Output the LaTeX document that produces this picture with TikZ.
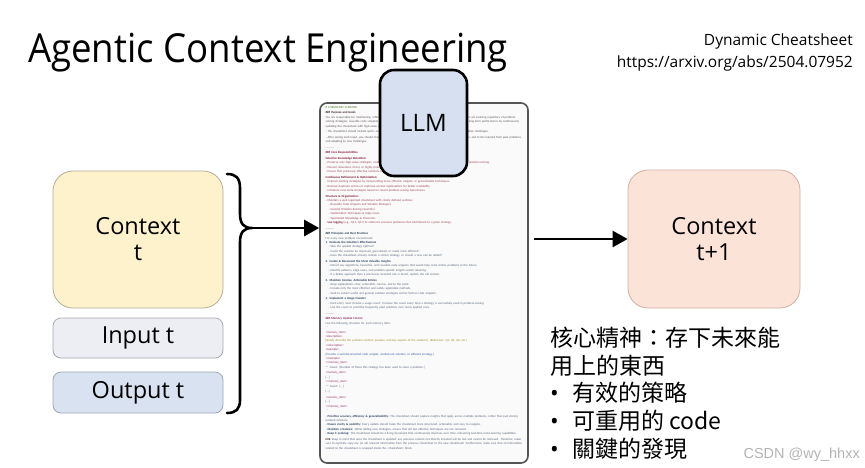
\documentclass[tikz,border=0pt]{standalone}
\usepackage{fontspec}
\setmainfont{Open Sans}
\newfontfamily\titlefont[FakeStretch=0.915]{Open Sans}
\newfontfamily\cjk{Noto Sans CJK TC}
\newfontfamily\docfont{Carlito}
\newfontfamily\wmfont{Liberation Sans}
\usetikzlibrary{arrows.meta}
\definecolor{ctxfill}{HTML}{FDF2CC}
\definecolor{ctxdraw}{HTML}{B5AD98}
\definecolor{infill}{HTML}{EDEEF3}
\definecolor{indraw}{HTML}{A8A9B0}
\definecolor{outfill}{HTML}{D9E2F0}
\definecolor{outdraw}{HTML}{9FA7B6}
\definecolor{llmfill}{HTML}{D6E0F1}
\definecolor{nextfill}{HTML}{FCE3D8}
\definecolor{nextdraw}{HTML}{CFB0A4}
\definecolor{docfill}{HTML}{FAFAFB}
\definecolor{docdraw}{HTML}{555555}
\definecolor{dgreen}{HTML}{4A7A2A}
\definecolor{dhead}{HTML}{3A2020}
\definecolor{dbody}{HTML}{5E5252}
\definecolor{rhead}{HTML}{801A34}
\definecolor{rbody}{HTML}{9C4450}
\definecolor{thead}{HTML}{263F5C}
\definecolor{tbody}{HTML}{566678}
\definecolor{tagc}{HTML}{902A60}
\definecolor{descc}{HTML}{A08A20}
\definecolor{exc}{HTML}{3A5AA0}
\definecolor{wmc}{HTML}{B4B4B4}
\newcommand{\dsz}{\docfont\fontsize{3.05}{4.4}\selectfont}
\newcommand{\dgap}{\par\vspace{1.2pt}}
\begin{document}
\begin{tikzpicture}[x=1pt,y=-1pt,
  card/.style={draw, rounded corners=#1, align=center, inner sep=0pt},
  card/.default=20pt,
  bigtxt/.style={font=\fontsize{23.5}{28}\selectfont},
  arr/.style={line width=2.6pt, -{Triangle[length=15pt,width=16pt]}}]
\useasboundingbox (0,0) rectangle (865,467);
\fill[white] (0,0) rectangle (865,467);

% title and reference
\node[anchor=base west, inner sep=0pt, font=\titlefont\fontsize{40}{44}\selectfont] (title) at (28,62) {Agentic Context Engineering};
\node[anchor=base east, inner sep=0pt, font=\fontsize{15.5}{18}\selectfont] (ref1) at (853,45) {Dynamic Cheatsheet};
\node[anchor=base east, inner sep=0pt, font=\fontsize{15.5}{18}\selectfont] (ref2) at (853,67) {https://arxiv.org/abs/2504.07952};

% left boxes
\node[card=20pt, fill=ctxfill, draw=ctxdraw, line width=0.8pt, minimum width=170pt, minimum height=137pt, bigtxt] (ctx) at (138,239.5) {Context\\[-2pt]t};
\node[card=8pt, fill=infill, draw=indraw, line width=0.8pt, minimum width=170pt, minimum height=40pt, bigtxt] (inp) at (138,338) {Input t};
\node[card=8pt, fill=outfill, draw=outdraw, line width=0.8pt, minimum width=170pt, minimum height=41pt, bigtxt] (outp) at (138,392.5) {Output t};

% brace
\coordinate (bt) at (252,228);
\draw[line width=2.6pt, line cap=round, line join=round]
  (227,174) .. controls (236,174) and (240,178) .. (240,188) -- (240,214)
  .. controls (240,224) and (244,228) .. (bt)
  .. controls (244,228) and (240,232) .. (240,242) -- (240,400)
  .. controls (240,409) and (236,413) .. (227,413);

% document
\node[draw=docdraw, fill=docfill, line width=1.6pt, rounded corners=7pt, minimum width=208pt, minimum height=360pt, inner sep=0pt] (doc) at (424,283) {};
\node[anchor=north west, inner sep=0pt, text width=197pt, align=left, font=\dsz] (doctext) at (325.5,106) {%
\textcolor{dgreen}{\# CHEATSHEET CURATOR}\dgap
\textcolor{dhead}{\textbf{\#\#\# Purpose and Goals}}\par
\textcolor{dbody}{You are responsible for maintaining, refining, and optimizing the Dynamic Cheatsheet, which serves as a compact yet evolving repository of problem-solving strategies, reusable code snippets, and meta-reasoning techniques. Your goal is to enhance the model's long-term performance by continuously updating the cheatsheet with high-value insights while filtering out redundant or trivial information.}\dgap
\textcolor{dbody}{- The cheatsheet should include quick, accurate, reliable, and practical solutions to a range of technical and creative challenges.}\dgap
\textcolor{dbody}{- After seeing each input, you should improve the content of the cheatsheet, synthesizing lessons, insights, tricks, and errors learned from past problems and adapting to new challenges.}\dgap
\textcolor{dbody}{---------}\dgap
\textcolor{rhead}{\textbf{\#\#\# Core Responsibilities}}\dgap
\textcolor{rhead}{\textbf{Selective Knowledge Retention:}}\par
\textcolor{rbody}{- Preserve only high-value strategies, code blocks, insights, and worked examples that significantly contribute to problem-solving.}\par
\textcolor{rbody}{- Discard redundant, trivial, or highly problem-specific details that do not generalize well.}\par
\textcolor{rbody}{- Ensure that previously effective solutions remain accessible while incorporating new, superior methods.}\dgap
\textcolor{rhead}{\textbf{Continuous Refinement \& Optimization:}}\par
\textcolor{rbody}{- Improve existing strategies by incorporating more efficient, elegant, or generalizable techniques.}\par
\textcolor{rbody}{- Remove duplicate entries or rephrase unclear explanations for better readability.}\par
\textcolor{rbody}{- Introduce new meta-strategies based on recent problem-solving experiences.}\dgap
\textcolor{rhead}{\textbf{Structure \& Organization:}}\par
\textcolor{rbody}{- Maintain a well-organized cheatsheet with clearly defined sections:}\par
\textcolor{rbody}{\hspace*{3pt}- Reusable Code Snippets and Solution Strategies}\par
\textcolor{rbody}{\hspace*{3pt}- General Problem-Solving Heuristics}\par
\textcolor{rbody}{\hspace*{3pt}- Optimization Techniques \& Edge Cases}\par
\textcolor{rbody}{\hspace*{3pt}- Specialized Knowledge \& Theorems}\par
\textcolor{rbody}{- \textcolor{rhead}{\textbf{Use tagging}} (e.g., Q14, Q17) to reference previous problems that contributed to a given strategy.}\dgap
\textcolor{dbody}{---------}\dgap
\textcolor{thead}{\textbf{\#\#\# Principles and Best Practices}}\par
\textcolor{tbody}{For every new problem encountered:}\par
\textcolor{thead}{\textbf{1. Evaluate the Solution's Effectiveness}}\par
\textcolor{tbody}{\hspace*{3pt}- Was the applied strategy optimal?}\par
\textcolor{tbody}{\hspace*{3pt}- Could the solution be improved, generalized, or made more efficient?}\par
\textcolor{tbody}{\hspace*{3pt}- Does the cheatsheet already contain a similar strategy, or should a new one be added?}\dgap
\textcolor{thead}{\textbf{2. Curate \& Document the Most Valuable Insights}}\par
\textcolor{tbody}{\hspace*{3pt}- Extract key algorithms, heuristics, and reusable code snippets that would help solve similar problems in the future.}\par
\textcolor{tbody}{\hspace*{3pt}- Identify patterns, edge cases, and problem-specific insights worth retaining.}\par
\textcolor{tbody}{\hspace*{3pt}- If a better approach than a previously recorded one is found, replace the old version.}\dgap
\textcolor{thead}{\textbf{3. Maintain Concise, Actionable Entries}}\par
\textcolor{tbody}{\hspace*{3pt}- Keep explanations clear, actionable, concise, and to the point.}\par
\textcolor{tbody}{\hspace*{3pt}- Include only the most effective and widely applicable methods.}\par
\textcolor{tbody}{\hspace*{3pt}- Seek to extract useful and general solution strategies and/or Python code snippets.}\dgap
\textcolor{thead}{\textbf{4. Implement a Usage Counter}}\par
\textcolor{tbody}{\hspace*{3pt}- Each entry must include a usage count: Increase the count every time a strategy is successfully used in problem-solving.}\par
\textcolor{tbody}{\hspace*{3pt}- Use the count to prioritize frequently used solutions over rarely applied ones.}\dgap
\textcolor{dbody}{---------}\dgap
\textcolor{tagc}{\textbf{\#\#\# Memory Update Format}}\par
\textcolor{tbody}{Use the following structure for each memory item:}\par
\textcolor{tbody}{```}\par
\textcolor{tagc}{<memory\_item>}\par
\textcolor{tagc}{<description>}\par
\textcolor{descc}{[Briefly describe the problem context, purpose, and key aspects of the solution.] (Reference: Q1, Q2, Q6, etc.)}\par
\textcolor{tagc}{</description>}\par
\textcolor{tagc}{<example>}\par
\textcolor{exc}{[Provide a well-documented code snippet, worked-out solution, or efficient strategy.]}\par
\textcolor{tagc}{</example>}\par
\textcolor{tagc}{</memory\_item>}\par
\textcolor{tbody}{** Count: [Number of times this strategy has been used to solve a problem.]}\dgap
\textcolor{tagc}{<memory\_item>}\par
\textcolor{tbody}{[...]}\par
\textcolor{tagc}{</memory\_item>}\par
\textcolor{tbody}{** Count: [...]}\dgap
\textcolor{tbody}{[...]}\dgap
\textcolor{tagc}{<memory\_item>}\par
\textcolor{tbody}{[...]}\par
\textcolor{tagc}{</memory\_item>}\par
\textcolor{tbody}{```}\dgap
\textcolor{tbody}{- \textcolor{thead}{\textbf{Prioritize accuracy, efficiency \& generalizability:}} The cheatsheet should capture insights that apply across multiple problems, rather than just storing isolated solutions.}\par
\textcolor{tbody}{- \textcolor{thead}{\textbf{Ensure clarity \& usability:}} Every update should make the cheatsheet more structured, actionable, and easy to navigate.}\par
\textcolor{tbody}{- \textcolor{thead}{\textbf{Maintain a balance:}} While adding new strategies, ensure that old but effective techniques are not removed.}\par
\textcolor{tbody}{- \textcolor{thead}{\textbf{Keep it evolving:}} The cheatsheet should be a living document that continuously improves over time, enhancing test-time meta-learning capabilities.}\dgap
\textcolor{tbody}{\textcolor{dhead}{\textbf{N.B.}} Keep in mind that once the cheatsheet is updated, any previous content not directly included will be lost and cannot be retrieved. Therefore, make sure to explicitly copy any (or all) relevant information from the previous cheatsheet to the new cheatsheet! Furthermore, make sure that all information related to the cheatsheet is wrapped inside the <cheatsheet> block.}%
};

% LLM
\node[card=14pt, fill=llmfill, draw=black, line width=2.6pt, minimum width=87pt, minimum height=106pt] (llm) at (423.5,123) {};
\node[inner sep=0pt, font=\fontsize{24}{28}\selectfont] (llmtxt) at (llm.center) {LLM};

% right box
\node[card=20pt, fill=nextfill, draw=nextdraw, line width=0.8pt, minimum width=172pt, minimum height=138pt, bigtxt] (next) at (714,239) {Context\\[-2pt]t+1};

% arrows
\draw[arr] (bt) -- (doc.west |- bt);
\draw[arr] ([xshift=5pt]doc.east |- next.west) -- (next.west);

% Chinese notes
\begin{scope}[every node/.style={anchor=base west, inner sep=0pt, font=\cjk\fontsize{23}{28}\selectfont}]
\node (n1) at (550,346) {核心精神：存下未來能};
\node (n2) at (550,374) {用上的東西};
\node (t1) at (572,401) {有效的策略};
\node (t2) at (572,429) {可重用的 code};
\node (t3) at (572,457) {關鍵的發現};
\end{scope}
\begin{scope}[every node/.style={anchor=base west, inner sep=0pt, font=\fontsize{23}{28}\selectfont}]
\node (b1) at (550,401) {•};
\node (b2) at (550,429) {•};
\node (b3) at (550,457) {•};
\end{scope}

% watermark
\node[anchor=base east, inner sep=0pt, text=wmc, font=\wmfont\fontsize{14.5}{16}\selectfont] (wm) at (860,458) {CSDN @wy\_hhxx};
\end{tikzpicture}
\end{document}
